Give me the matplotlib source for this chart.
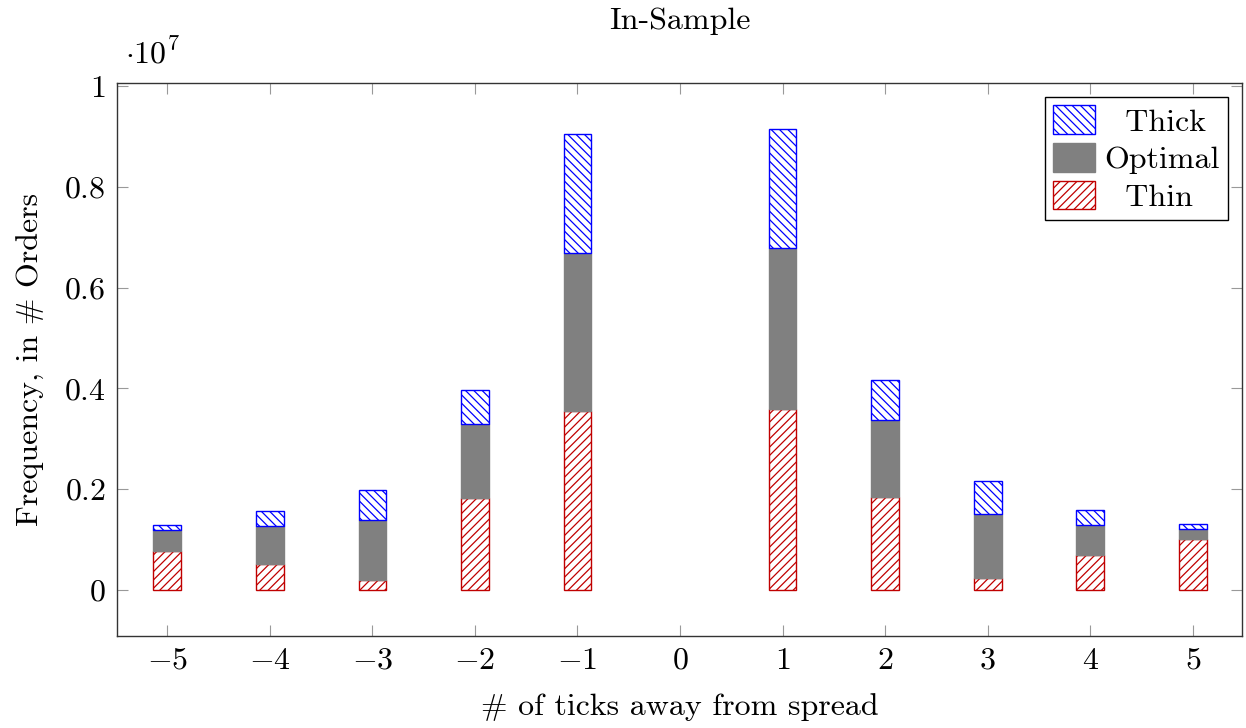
import matplotlib
matplotlib.use("Agg")
import matplotlib.pyplot as plt
from matplotlib.ticker import FuncFormatter, FixedLocator

plt.rcParams['font.family'] = 'serif'
plt.rcParams['font.serif'] = ['cmr10']
plt.rcParams['mathtext.fontset'] = 'cm'
plt.rcParams['axes.formatter.use_mathtext'] = True
plt.rcParams['hatch.linewidth'] = 0.9

ticks_away = [-5, -4, -3, -2, -1, 0, 1, 2, 3, 4, 5]
thin    = [780000, 520000, 200000, 1820000, 3560000, 0, 3590000, 1850000, 240000, 690000, 1010000]
optimal = [410000, 750000, 1180000, 1470000, 3130000, 0, 3200000, 1530000, 1270000, 590000, 200000]
thick   = [100000, 300000, 610000, 670000, 2360000, 0, 2360000, 780000, 660000, 310000, 90000]

FS = 23
fig = plt.figure(figsize=(12.46, 7.28), dpi=100)
ax = fig.add_axes([0.0939, 0.1264, 0.9029, 0.7596])

def lw(vals):
    return [1.0 if v > 0 else 0.0 for v in vals]

w = 0.27
b1 = ax.bar(ticks_away, thin, width=w, color='white', edgecolor='#c00000', hatch='////',
            linewidth=lw(thin), label='Thin')
b2 = ax.bar(ticks_away, optimal, width=w, bottom=thin, color='#808080', edgecolor='#808080',
            linewidth=lw(optimal), label='Optimal')
bottom3 = [a + b for a, b in zip(thin, optimal)]
b3 = ax.bar(ticks_away, thick, width=w, bottom=bottom3, color='white', edgecolor='#0000ff',
            hatch='\\\\\\\\', linewidth=lw(thick), label='Thick')

totals = [a + b for a, b in zip(bottom3, thick)]
mx = max(totals)
ax.set_ylim(-0.1 * mx, 1.1 * mx)
ax.set_xlim(-5.49, 5.48)

ax.xaxis.set_major_locator(FixedLocator(ticks_away))
ax.xaxis.set_major_formatter(FuncFormatter(lambda v, p: f"${int(round(v))}$"))
yt = [0, 2e6, 4e6, 6e6, 8e6, 1e7]
ax.yaxis.set_major_locator(FixedLocator(yt))
def yfmt(v, p):
    s = f"{v/1e7:.1f}"
    if s.endswith('.0'):
        s = s[:-2]
    return f"${s}$"
ax.yaxis.set_major_formatter(FuncFormatter(yfmt))

ax.tick_params(axis='both', direction='in', length=8, width=0.8, color='#999999',
               labelsize=FS, top=True, right=True, pad=8)
for sp in ax.spines.values():
    sp.set_color('#333333')
    sp.set_linewidth(1.0)

ax.text(0.007, 1.025, r"$\cdot 10^{7}$", transform=ax.transAxes, fontsize=FS, ha='left', va='bottom')
ax.set_title("In-Sample", fontsize=FS, pad=39)
ax.set_xlabel("# of ticks away from spread", fontsize=FS, labelpad=13)
ax.set_ylabel("Frequency, in # Orders", fontsize=FS, labelpad=14)

leg = ax.legend(handles=[b3, b2, b1], labels=['  Thick', 'Optimal', '  Thin'], loc='upper right',
                fontsize=FS, fancybox=False, edgecolor='black', framealpha=1,
                handlelength=1.3, handleheight=1.0, handletextpad=0.3, borderpad=0.25,
                labelspacing=0.2, borderaxespad=0.45)
leg.get_frame().set_linewidth(1.0)

fig.savefig("out.png", dpi=100)
